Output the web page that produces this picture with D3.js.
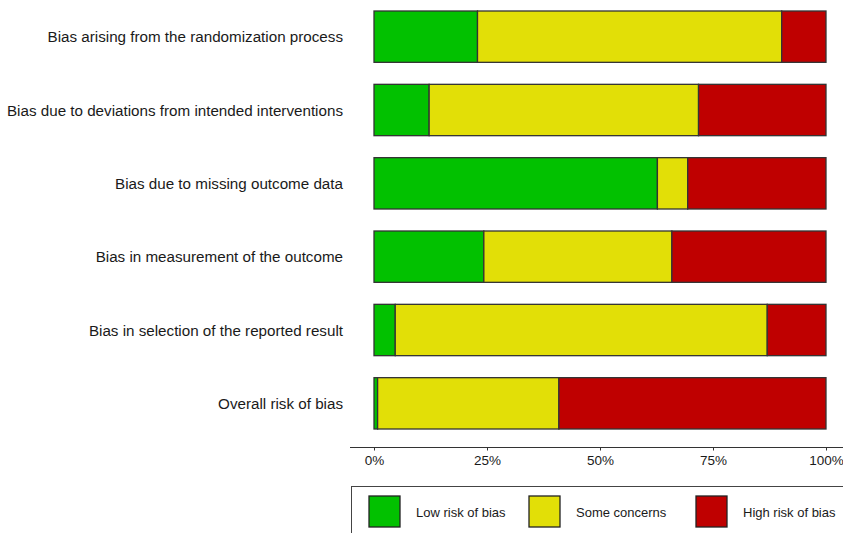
<!DOCTYPE html>
<html>
<head>
<meta charset="utf-8">
<script src="https://cdn.jsdelivr.net/npm/d3@7"></script>
<style>
  html, body { margin: 0; padding: 0; background: #fff; }
  svg { display: block; }
  text { font-family: "Liberation Sans", Arial, sans-serif; fill: #1a1a1a; }
</style>
</head>
<body>
<svg id="chart" width="843" height="533"></svg>
<script>
const domains = [
  "Bias arising from the randomization process",
  "Bias due to deviations from intended interventions",
  "Bias due to missing outcome data",
  "Bias in measurement of the outcome",
  "Bias in selection of the reported result",
  "Overall risk of bias"
];
const lowRisk      = [22.9, 12.2, 62.7, 24.3, 4.7, 0.8];
const someConcerns = [67.3, 59.6, 6.7, 41.6, 82.3, 40.1];
const highRisk     = [9.8, 28.2, 30.6, 34.1, 13.0, 59.1];
const seriesNames  = ["Low risk of bias", "Some concerns", "High risk of bias"];
const seriesColors = ["#02C100", "#E2DF07", "#BF0000"];
const tickValues   = [0, 25, 50, 75, 100];

const svg = d3.select("#chart");
const x = d3.scaleLinear().domain([0, 100]).range([374, 826]);
const y = d3.scaleBand().domain(domains).range([0, 440]).paddingInner(0.3).paddingOuter(0.15);

const rows = domains.map((d, i) => ({ domain: d, low: lowRisk[i], some: someConcerns[i], high: highRisk[i] }));
const stack = d3.stack().keys(["low", "some", "high"]);
const layers = stack(rows);

svg.append("g").selectAll("g")
  .data(layers)
  .join("g")
  .attr("fill", (d, i) => seriesColors[i])
  .selectAll("rect")
  .data(d => d)
  .join("rect")
  .attr("x", d => x(d[0]))
  .attr("width", d => x(d[1]) - x(d[0]))
  .attr("y", d => y(d.data.domain))
  .attr("height", y.bandwidth())
  .attr("stroke", "#333")
  .attr("stroke-width", 1.3);

// category labels
svg.append("g").selectAll("text")
  .data(domains)
  .join("text")
  .attr("x", 343)
  .attr("y", d => y(d) + y.bandwidth() / 2)
  .attr("text-anchor", "end")
  .attr("dominant-baseline", "central")
  .attr("font-size", 15.2)
  .text(d => d);

// x axis
const axisY = 447.5;
svg.append("line")
  .attr("x1", 350).attr("x2", 843)
  .attr("y1", axisY).attr("y2", axisY)
  .attr("stroke", "#333").attr("stroke-width", 1.2);
const axis = d3.axisBottom(x).tickValues(tickValues).tickFormat(d => d + "%").tickSize(3).tickPadding(5);
const ag = svg.append("g").attr("transform", `translate(0,${axisY})`).call(axis);
ag.select(".domain").remove();
ag.selectAll(".tick line").attr("stroke", "#333");
ag.selectAll(".tick text").attr("font-size", 13.5).attr("fill", "#333")
  .attr("font-family", "'Liberation Sans', Arial, sans-serif");

// legend
svg.append("rect")
  .attr("x", 351.5).attr("y", 486.5)
  .attr("width", 500).attr("height", 60)
  .attr("fill", "none").attr("stroke", "#444").attr("stroke-width", 1);
const legendX = [369, 529, 696];
const lg = svg.append("g").selectAll("g")
  .data(seriesNames)
  .join("g")
  .attr("transform", (d, i) => `translate(${legendX[i]},496)`);
lg.append("rect")
  .attr("width", 31).attr("height", 31)
  .attr("fill", (d, i) => seriesColors[i])
  .attr("stroke", "#222").attr("stroke-width", 1.3);
lg.append("text")
  .attr("x", 47).attr("y", 16)
  .attr("dominant-baseline", "central")
  .attr("font-size", 13)
  .text(d => d);
</script>
</body>
</html>
